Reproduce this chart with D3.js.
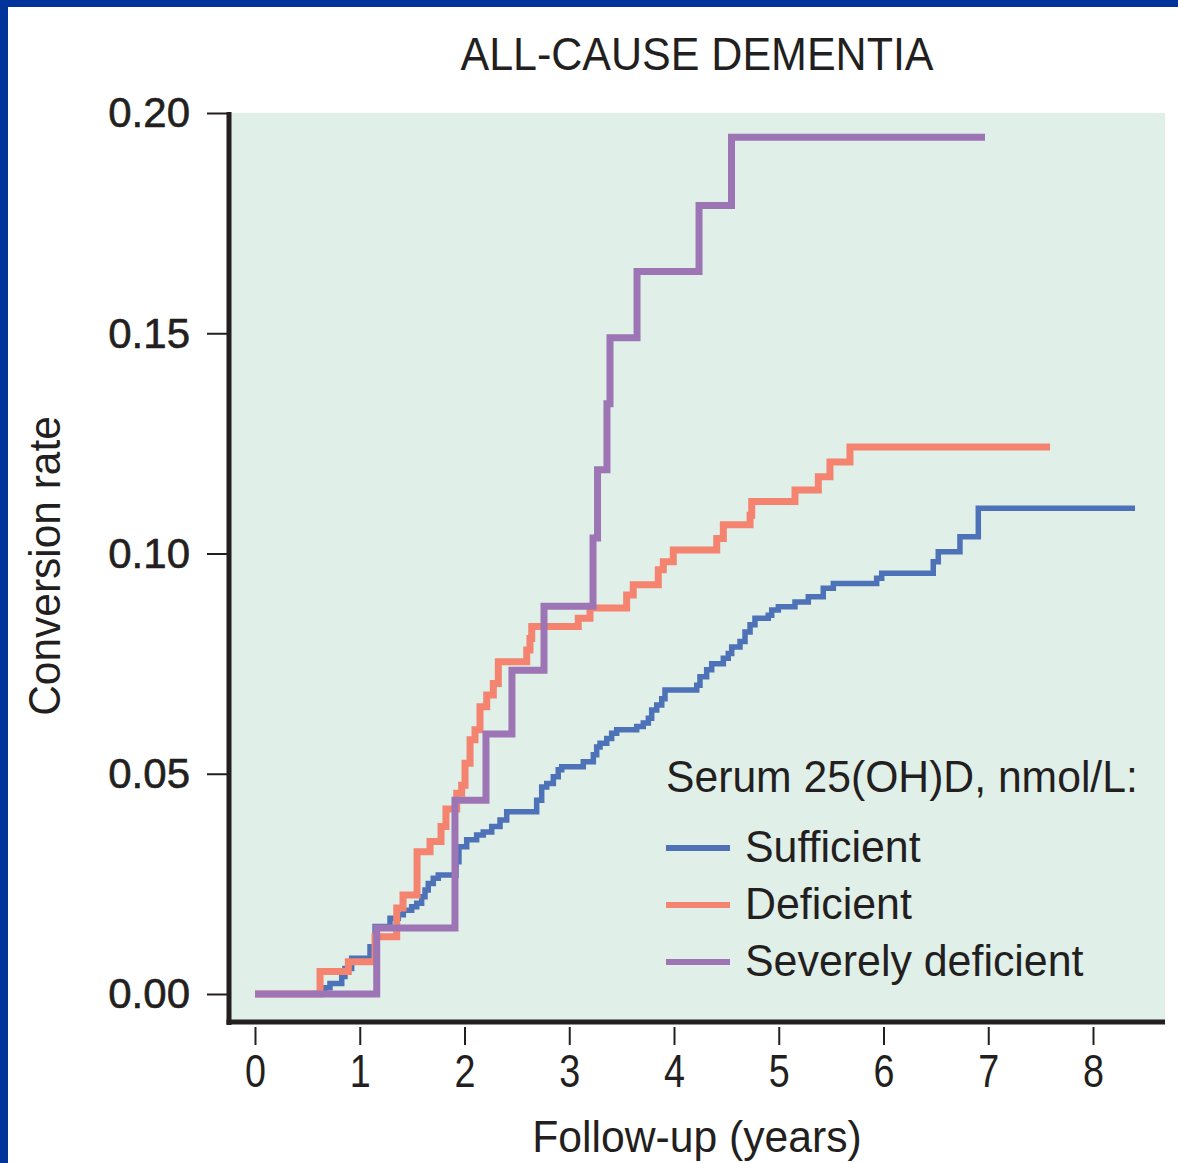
<!DOCTYPE html>
<html>
<head>
<meta charset="utf-8">
<script src="https://cdn.jsdelivr.net/npm/d3@7"></script>
<style>
  html, body { margin: 0; padding: 0; background: #ffffff; }
  svg { display: block; }
  text { font-family: "Liberation Sans", Arial, Helvetica, sans-serif; fill: #231f20; }
</style>
</head>
<body>
<svg id="chart" width="1178" height="1163"></svg>
<script>
// ---------------- data ----------------
const chartTitle = "ALL-CAUSE DEMENTIA";
const xAxisTitle = "Follow-up (years)";
const yAxisTitle = "Conversion rate";
const legendTitle = "Serum 25(OH)D, nmol/L:";
const seriesNames = ["Sufficient", "Deficient", "Severely deficient"];

const xTicks = [0, 1, 2, 3, 4, 5, 6, 7, 8];
const yTicks = [0.00, 0.05, 0.10, 0.15, 0.20];

// Sufficient (step times in years, cumulative conversion rate after each step)
const sufficientYears = [0, 0.668, 0.716, 0.828, 0.859, 0.923, 1.098, 1.146, 1.289, 1.368, 1.416,
  1.496, 1.544, 1.591, 1.623, 1.654, 1.702, 1.750, 1.919, 1.947, 2.021, 2.116, 2.179, 2.260,
  2.339, 2.403, 2.689, 2.737, 2.785, 2.848, 2.895, 2.928, 3.134, 3.230, 3.262, 3.294, 3.358,
  3.405, 3.453, 3.644, 3.707, 3.755, 3.787, 3.835, 3.883, 3.914, 4.217, 4.248, 4.312, 4.360,
  4.471, 4.518, 4.551, 4.630, 4.678, 4.726, 4.773, 4.900, 4.933, 4.996, 5.155, 5.282, 5.425,
  5.521, 5.935, 5.983, 6.475, 6.523, 6.730, 6.905, 8.401];
const sufficientRates = [0, 0.0014, 0.0024, 0.0040, 0.0058, 0.0081, 0.0107, 0.0153, 0.0172, 0.0180, 0.0190,
  0.0198, 0.0206, 0.0221, 0.0236, 0.0251, 0.0263, 0.0270, 0.0300, 0.0334, 0.0350, 0.0361, 0.0368, 0.0380,
  0.0395, 0.0414, 0.0440, 0.0470, 0.0478, 0.0493, 0.0509, 0.0516, 0.0527, 0.0543, 0.0561, 0.0569, 0.0580,
  0.0592, 0.0600, 0.0607, 0.0615, 0.0626, 0.0645, 0.0656, 0.0670, 0.0690, 0.0701, 0.0720, 0.0736, 0.0750,
  0.0762, 0.0773, 0.0788, 0.0800, 0.0822, 0.0838, 0.0853, 0.0860, 0.0872, 0.0879, 0.0890, 0.0902, 0.0921,
  0.0932, 0.0944, 0.0955, 0.0981, 0.1004, 0.1038, 0.1103, 0.1103];

// Deficient
const deficientYears = [0, 0.621, 0.891, 1.146, 1.353, 1.413, 1.547, 1.671, 1.776, 1.823, 1.926,
  1.973, 2.005, 2.053, 2.100, 2.148, 2.212, 2.275, 2.323, 2.594, 2.625, 2.642, 3.086, 3.198,
  3.548, 3.611, 3.850, 3.898, 3.993, 4.408, 4.471, 4.726, 4.742, 5.155, 5.378, 5.489, 5.680, 7.590];
const deficientRates = [0, 0.0051, 0.0073, 0.0130, 0.0195, 0.0225, 0.0323, 0.0346, 0.0380, 0.0420, 0.0456,
  0.0474, 0.0524, 0.0577, 0.0600, 0.0652, 0.0679, 0.0705, 0.0754, 0.0781, 0.0807, 0.0834, 0.0853, 0.0876,
  0.0906, 0.0929, 0.0963, 0.0981, 0.1008, 0.1034, 0.1065, 0.1087, 0.1118, 0.1144, 0.1174, 0.1208, 0.1242, 0.1242];

// Severely deficient
const severeYears = [0, 1.162, 1.909, 2.205, 2.453, 2.759, 3.227, 3.270, 3.360, 3.389, 3.647, 4.239, 4.549, 6.969];
const severeRates = [0, 0.0150, 0.0440, 0.0590, 0.0735, 0.0880, 0.1035, 0.1190, 0.1340, 0.1490, 0.1640, 0.1790, 0.1945, 0.1945];

const seriesColors = ["#4e72b8", "#f4846f", "#9d75b5"];

// ---------------- drawing ----------------
const svg = d3.select("#chart");
const ink = "#231f20";

// page frame (blue edge)
svg.append("rect").attr("x", 0).attr("y", 0).attr("width", 1178).attr("height", 7).attr("fill", "#00349b");
svg.append("rect").attr("x", 0).attr("y", 0).attr("width", 8).attr("height", 1163).attr("fill", "#00349b");

const x = d3.scaleLinear().domain([0, 8]).range([255, 1093]);
const y = d3.scaleLinear().domain([0, 0.2]).range([994, 113]);

const plotLeft = 229, plotRight = 1165, plotTop = 113, plotBottom = 1022;

// plot background
svg.append("rect")
  .attr("x", plotLeft).attr("y", plotTop)
  .attr("width", plotRight - plotLeft).attr("height", plotBottom - plotTop)
  .attr("fill", "#e1efe9");

// condensed text helper
function ctext(g, str, px, py, size, sx, anchor, rotate) {
  const t = g.append("text")
    .attr("transform", `translate(${px},${py})${rotate ? " rotate(" + rotate + ")" : ""} scale(${sx},1)`)
    .attr("font-size", size)
    .attr("text-anchor", anchor || "start")
    .text(str);
  return t;
}

// Title
ctext(svg, chartTitle, 697, 70, 46, 0.935, "middle");

// Y axis
const yAxis = d3.axisLeft(y).tickValues(yTicks).tickSize(22).tickPadding(17).tickFormat(d3.format(".2f"));
const gy = svg.append("g").attr("transform", `translate(${plotLeft},0)`).call(yAxis);
gy.select(".domain").remove();
gy.selectAll(".tick line").attr("stroke", ink).attr("stroke-width", 2);
gy.selectAll(".tick text")
  .attr("font-size", 42)
  .attr("font-family", "'Liberation Sans', Arial, sans-serif")
  .attr("fill", ink)
  .attr("stroke", ink).attr("stroke-width", 0.6)
  .attr("dy", "0.33em");

// X axis
const xAxis = d3.axisBottom(x).tickValues(xTicks).tickSize(18).tickPadding(0).tickFormat(d3.format("d"));
const gx = svg.append("g").attr("transform", `translate(0,${plotBottom + 5})`).call(xAxis);
gx.select(".domain").remove();
gx.selectAll(".tick line").attr("stroke", ink).attr("stroke-width", 2);
gx.selectAll(".tick text").remove();
gx.selectAll(".tick").each(function(d) {
  ctext(d3.select(this), String(d), 0, 60, 46, 0.82, "middle");
});

// axis titles
ctext(svg, xAxisTitle, 697, 1152, 44, 0.97, "middle");
ctext(svg, yAxisTitle, 60, 566, 44, 0.965, "middle", -90);

// series lines
const line = d3.line()
  .x(d => x(d[0]))
  .y(d => y(d[1]))
  .curve(d3.curveStepAfter);

const series = [
  { name: seriesNames[0], years: sufficientYears, rates: sufficientRates, color: seriesColors[0], width: 5.5 },
  { name: seriesNames[1], years: deficientYears, rates: deficientRates, color: seriesColors[1], width: 7 },
  { name: seriesNames[2], years: severeYears, rates: severeRates, color: seriesColors[2], width: 7 }
];

series.forEach(s => {
  const pts = s.years.map((t, i) => [t, s.rates[i]]);
  svg.append("path")
    .datum(pts)
    .attr("fill", "none")
    .attr("stroke", s.color)
    .attr("stroke-width", s.width)
    .attr("stroke-linejoin", "miter")
    .attr("stroke-linecap", "butt")
    .attr("d", line);
});

// axis lines (thick)
svg.append("line").attr("x1", plotLeft).attr("x2", plotLeft).attr("y1", plotTop - 1).attr("y2", plotBottom + 3)
  .attr("stroke", ink).attr("stroke-width", 5);
svg.append("line").attr("x1", plotLeft - 2.5).attr("x2", plotRight).attr("y1", plotBottom).attr("y2", plotBottom)
  .attr("stroke", ink).attr("stroke-width", 5);

// legend
const lg = svg.append("g");
ctext(lg, legendTitle, 666, 792, 44, 0.97, "start");
const legendY = [848, 905, 962];
series.forEach((s, i) => {
  lg.append("line")
    .attr("x1", 666).attr("x2", 730)
    .attr("y1", legendY[i]).attr("y2", legendY[i])
    .attr("stroke", s.color).attr("stroke-width", 6);
  ctext(lg, s.name, 745, legendY[i] + 14, 44, 0.975, "start");
});
</script>
</body>
</html>
